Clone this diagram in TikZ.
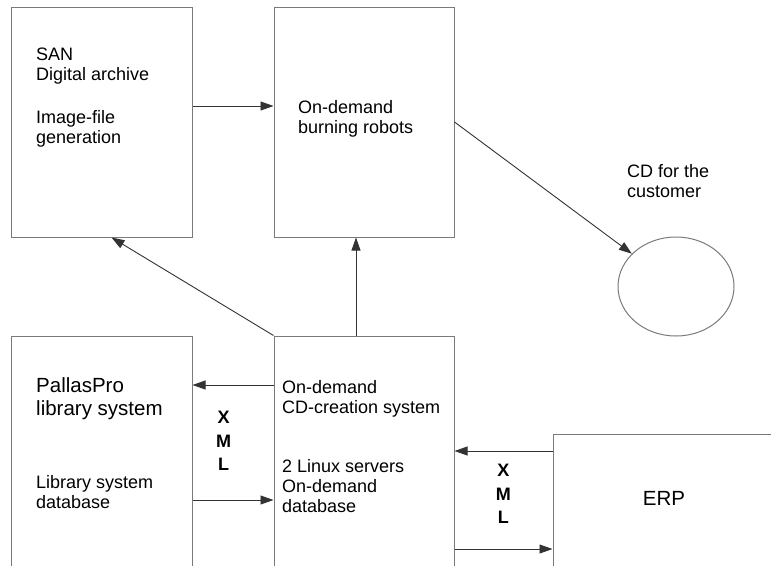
\documentclass[tikz,border=0pt]{standalone}
\usepackage{fontspec}
\setmainfont{Liberation Sans}
\usepackage{tikz}
\usetikzlibrary{arrows.meta,shapes.geometric}
\definecolor{cadre}{HTML}{7A7A7A}
\definecolor{gris}{HTML}{333333}
\tikzset{
  boite/.style={draw=cadre,line width=1pt,inner sep=0pt},
  fleche/.style={-{Triangle[length=13pt,width=9pt]},line width=0.9pt,color=gris},
  texte/.style={anchor=north west,inner sep=0pt,align=left,font=\fontsize{18}{20}\selectfont},
  grand/.style={texte,font=\fontsize{20.5}{23}\selectfont},
  xml/.style={anchor=north,inner sep=0pt,align=center,font=\fontsize{18}{23.5}\selectfont\bfseries},
}

\begin{document}
\begin{tikzpicture}[x=1pt,y=-1pt]
  \useasboundingbox (0,0) rectangle (771,565);
  \clip (0,0) rectangle (771,565);
  % boites
  \node[boite,minimum width=181pt,minimum height=230pt] (san) at (101.5,122) {};
  \node[boite,minimum width=180pt,minimum height=230pt] (robots) at (364,122) {};
  \node[boite,ellipse,minimum width=116pt,minimum height=99pt] (cd) at (676,286.5) {};
  \node[boite,minimum width=181pt,minimum height=264pt] (pallas) at (101.5,468) {};
  \node[boite,minimum width=180pt,minimum height=264pt] (creation) at (364,468) {};
  \node[boite,minimum width=237pt,minimum height=166pt] (erp) at (671.5,517) {};
  % textes
  \node[texte] (santxt) at (36,48) {SAN\\Digital archive\\[23pt]Image-file\\generation};
  \node[texte] (robotstxt) at (298,100) {On-demand\\burning robots};
  \node[texte] (cdtxt) at (627,164) {CD for the\\customer};
  \node[grand] (pallastxt) at (36,377) {PallasPro\\library system};
  \node[texte] (basetxt) at (36,475) {Library system\\database};
  \node[texte] (creationtxt) at (282,380) {On-demand\\CD-creation system};
  \node[texte] (serveurstxt) at (282,459) {2 Linux servers\\On-demand\\database};
  \node[inner sep=0pt,font=\fontsize{20.5}{23}\selectfont] (erptxt) at (664,498) {ERP};
  \node[xml] (xmlg) at (223.7,411) {X\\M\\L};
  \node[xml] (xmld) at (503.3,464) {X\\M\\L};
  % fleches
  \draw[fleche] ([yshift=16pt]san.east) -- ([yshift=16pt]robots.west);
  \draw[fleche] (robots.east) -- (cd);
  \draw[fleche] (creation.north west) -- ([xshift=10pt]san.south);
  \draw[fleche] ([xshift=-8pt]creation.north) -- ([xshift=-8pt]robots.south);
  \draw[fleche] ([yshift=83pt]creation.west) -- ([yshift=83pt]pallas.east);
  \draw[fleche] ([yshift=-32pt]pallas.east) -- ([yshift=-32pt]creation.west);
  \draw[fleche] ([yshift=66pt]erp.west) -- ([yshift=17pt]creation.east);
  \draw[fleche] ([yshift=-81pt]creation.east) -- ([yshift=-32pt]erp.west);
\end{tikzpicture}
\end{document}
